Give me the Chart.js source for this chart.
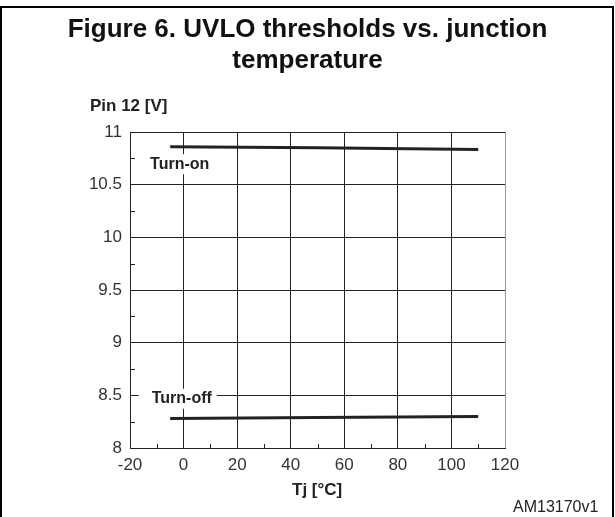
<!DOCTYPE html>
<html>
<head>
<meta charset="utf-8">
<script src="https://cdn.jsdelivr.net/npm/chart.js@4"></script>
<style>
  body { margin: 0; background: #fff; }
  #wrap { position: relative; width: 615px; height: 517px; overflow: hidden; font-family: "Liberation Sans", Arial, sans-serif; }
  #frame { position: absolute; left: 0; top: 6px; width: 610px; height: 520px; border: 2px solid #000; border-bottom: none; }
  #uvloCanvas { position: absolute; left: 0; top: 0; }
  .txt { position: absolute; color: #222; white-space: nowrap; }
  #title { left: 0; width: 615px; top: 13px; text-align: center; font-weight: bold; font-size: 26px; line-height: 31px; color: #111; }
  #ytitle { left: 90px; top: 96px; font-weight: bold; font-size: 17px; }
  #xtitle { left: 292px; top: 480px; font-weight: bold; font-size: 17px; }
  #note { left: 513px; top: 498px; font-size: 16px; }
</style>
</head>
<body>
<div id="wrap">
  <div id="frame"></div>
  <canvas id="uvloCanvas" width="615" height="517"></canvas>
  <div id="title" class="txt">Figure 6. UVLO thresholds vs. junction<br>temperature</div>
  <div id="ytitle" class="txt">Pin 12 [V]</div>
  <div id="xtitle" class="txt">Tj [°C]</div>
  <div id="note" class="txt">AM13170v1</div>
</div>
<script>
// junction temperature (°C)
var tempX = [-5, 50, 110];
// threshold voltages (V)
var turnOn = [10.86, 10.85, 10.835];
var turnOff = [8.28, 8.29, 8.30];

var curveLabels = ['Turn-on', 'Turn-off'];
var labelX = [-12.5, -11.9];
var labelY = [10.694, 8.467];

var minorX = [-10, 10, 30, 50, 70, 90, 110];
var minorY = [8.25, 8.75, 9.25, 9.75, 10.25, 10.75];

function pts(ys) {
    return tempX.map(function(x, i) { return { x: x, y: ys[i] }; });
}

var extras = {
    id: 'extras',
    beforeDatasetsDraw: function(chart) {
        var ctx = chart.ctx;
        var xs = chart.scales.x, ys = chart.scales.y;
        var area = chart.chartArea;
        ctx.save();
        // minor ticks
        ctx.strokeStyle = '#222';
        ctx.lineWidth = 1;
        minorY.forEach(function(v) {
            var py = Math.round(ys.getPixelForValue(v)) + 0.5;
            ctx.beginPath();
            ctx.moveTo(area.left, py);
            ctx.lineTo(area.left + 5, py);
            ctx.stroke();
        });
        minorX.forEach(function(v) {
            var px = Math.round(xs.getPixelForValue(v)) + 0.5;
            ctx.beginPath();
            ctx.moveTo(px, area.bottom);
            ctx.lineTo(px, area.bottom - 4);
            ctx.stroke();
        });
        // curve labels with white boxes
        ctx.font = 'bold 16px "Liberation Sans", Arial, sans-serif';
        ctx.textBaseline = 'middle';
        curveLabels.forEach(function(t, i) {
            var px = xs.getPixelForValue(labelX[i]);
            var py = ys.getPixelForValue(labelY[i]);
            var w = ctx.measureText(t).width;
            ctx.fillStyle = '#fff';
            ctx.fillRect(px - 13, py - 10, w + 18, 20);
            ctx.fillStyle = '#222';
            ctx.fillText(t, px, py);
        });
        ctx.restore();
    }
};

var tickFont = { family: '"Liberation Sans", Arial, sans-serif', size: 17 };

var ctx = document.getElementById('uvloCanvas');

var myChart = new Chart(ctx, {
    type: 'scatter',
    data: {
        datasets: [
            { label: curveLabels[0], data: pts(turnOn), showLine: true, borderColor: '#222', borderWidth: 3, pointRadius: 0 },
            { label: curveLabels[1], data: pts(turnOff), showLine: true, borderColor: '#222', borderWidth: 3, pointRadius: 0 }
        ]
    },
    options: {
        responsive: false,
        animation: false,
        layout: { padding: { left: 0, right: 110, top: 132, bottom: 0 } },
        plugins: { legend: { display: false }, tooltip: { enabled: false } },
        scales: {
            x: {
                type: 'linear',
                min: -20,
                max: 120,
                afterFit: function(s) { s.height = 69; },
                ticks: { stepSize: 20, padding: 7, color: '#333', font: tickFont, callback: function(v) { return String(v); } },
                grid: {
                    drawTicks: false,
                    color: function(c) { return c.tick && c.tick.value === 120 ? '#999' : '#222'; },
                    lineWidth: 1
                },
                border: { color: '#222', width: 1 }
            },
            y: {
                min: 8,
                max: 11,
                afterFit: function(s) { s.width = 130; },
                ticks: { stepSize: 0.5, padding: 8, color: '#333', font: tickFont, callback: function(v) { return String(v); } },
                grid: { drawTicks: false, color: '#222', lineWidth: 1 },
                border: { color: '#222', width: 1 }
            }
        }
    },
    plugins: [extras]
});
</script>
</body>
</html>
